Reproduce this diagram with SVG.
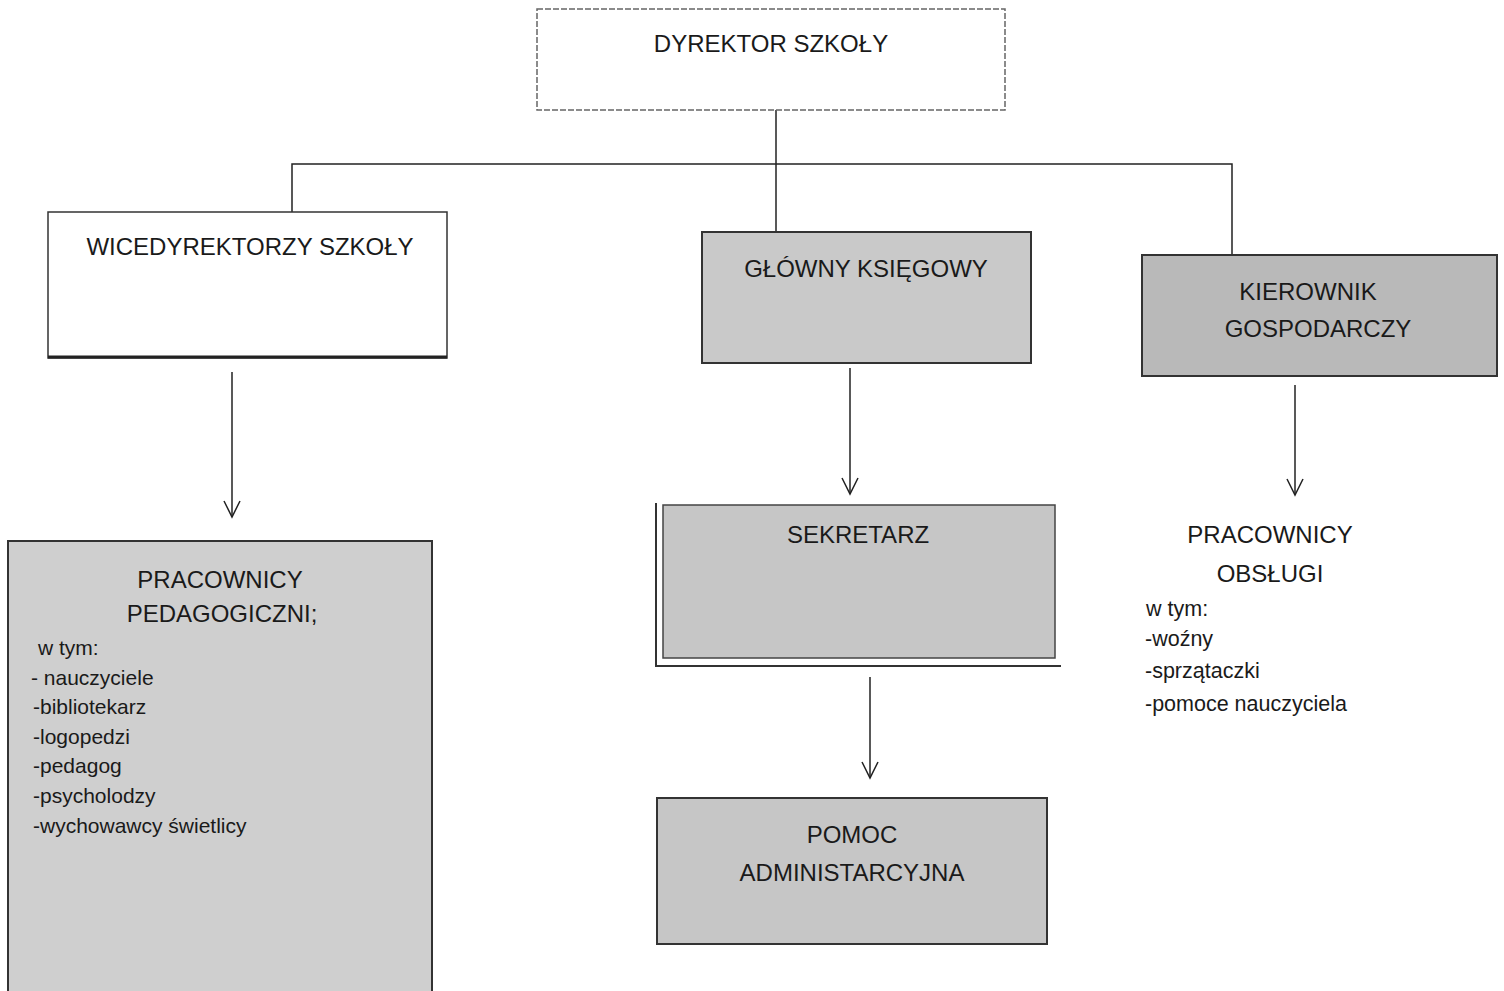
<svg xmlns="http://www.w3.org/2000/svg" width="1504" height="991" viewBox="0 0 1504 991">
<style>
.t{font-family:"Liberation Sans",Arial,sans-serif;fill:#1a1a1a}
.h{font-size:24px;text-anchor:middle}
.l{font-size:21px}
.r{font-size:21.5px}
.ln{stroke:#222;stroke-width:1.5;fill:none}
.box{stroke:#333;stroke-width:2}
</style>
<defs>
<marker id="v" markerWidth="20" markerHeight="20" refX="18" refY="10" orient="auto" markerUnits="userSpaceOnUse" viewBox="0 0 20 20">
<path d="M2,2 L18,10 L2,18" fill="none" stroke="#222" stroke-width="1.5"/>
</marker>
</defs>
<rect width="1504" height="991" fill="#fff"/>
<g id="connectors">
<path class="ln" d="M776,110 V232"/>
<path class="ln" d="M292,212 V164 H1232 V255"/>
<path class="ln" d="M232,372 V517" marker-end="url(#v)"/>
<path class="ln" d="M850,368 V494" marker-end="url(#v)"/>
<path class="ln" d="M1295,385 V495" marker-end="url(#v)"/>
<path class="ln" d="M870,677 V778" marker-end="url(#v)"/>
</g>
<g id="dyrektor">
<rect x="537" y="9" width="468" height="101" fill="#fff" stroke="#666" stroke-width="1.5" stroke-dasharray="6 2"/>
<text class="t h" x="771" y="52">DYREKTOR SZKOŁY</text>
</g>
<g id="wicedyrektorzy">
<rect x="48" y="212" width="399" height="146" fill="#fff" stroke="#333" stroke-width="1.5"/>
<line x1="48" y1="357" x2="447" y2="357" stroke="#222" stroke-width="3"/>
<text class="t h" x="250" y="255">WICEDYREKTORZY SZKOŁY</text>
</g>
<g id="glowny">
<rect x="702" y="232" width="329" height="131" fill="#c9c9c9" class="box"/>
<text class="t h" x="866" y="277">GŁÓWNY KSIĘGOWY</text>
</g>
<g id="kierownik">
<rect x="1142" y="255" width="355" height="121" fill="#b9b9b9" class="box"/>
<text class="t h" x="1308" y="300">KIEROWNIK</text>
<text class="t h" x="1318" y="337">GOSPODARCZY</text>
</g>
<g id="sekretarz">
<path d="M656,503 V666 H1061" fill="none" stroke="#333" stroke-width="2"/>
<rect x="663" y="505" width="392" height="153" fill="#c6c6c6" stroke="#444" stroke-width="1.5"/>
<text class="t h" x="858" y="543">SEKRETARZ</text>
</g>
<g id="pomoc">
<rect x="657" y="798" width="390" height="146" fill="#c6c6c6" class="box"/>
<text class="t h" x="852" y="843">POMOC</text>
<text class="t h" x="852" y="881">ADMINISTARCYJNA</text>
</g>
<g id="pedagogiczni">
<rect x="8" y="541" width="424" height="460" fill="#cfcfcf" class="box"/>
<text class="t h" x="220" y="588">PRACOWNICY</text>
<text class="t h" x="222" y="622">PEDAGOGICZNI;</text>
<text class="t l" x="38" y="655">w tym:</text>
<text class="t l" x="31" y="685">- nauczyciele</text>
<text class="t l" x="33" y="714">-bibliotekarz</text>
<text class="t l" x="33" y="744">-logopedzi</text>
<text class="t l" x="33" y="773">-pedagog</text>
<text class="t l" x="33" y="803">-psycholodzy</text>
<text class="t l" x="33" y="833">-wychowawcy świetlicy</text>
</g>
<g id="obslugi">
<text class="t h" x="1270" y="543">PRACOWNICY</text>
<text class="t h" x="1270" y="582">OBSŁUGI</text>
<text class="t r" x="1146" y="616">w tym:</text>
<text class="t r" x="1145" y="646">-woźny</text>
<text class="t r" x="1145" y="678">-sprzątaczki</text>
<text class="t r" x="1145" y="711">-pomoce nauczyciela</text>
</g>
</svg>
